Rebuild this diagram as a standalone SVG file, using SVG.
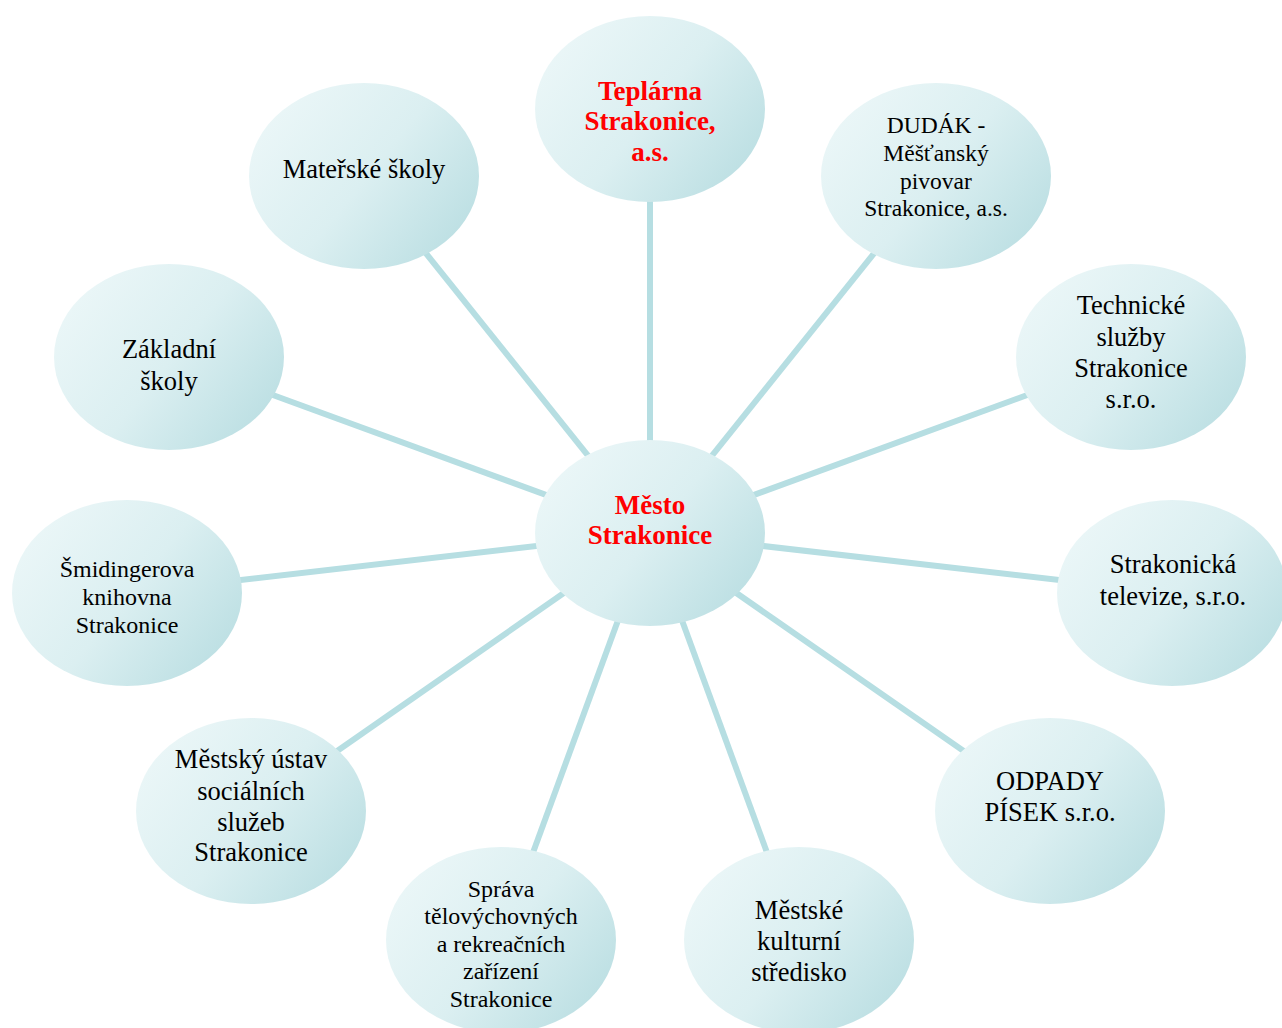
<svg xmlns="http://www.w3.org/2000/svg" width="1282" height="1028" viewBox="0 0 1282 1028" font-family="'Liberation Serif', 'Times New Roman', Times, serif">
<defs>
<linearGradient id="g" x1="0" y1="0.2" x2="1" y2="0.85">
<stop offset="0" stop-color="#ecf7f8"/>
<stop offset="0.5" stop-color="#dbeff1"/>
<stop offset="1" stop-color="#b8dde1"/>
</linearGradient>
<style>
.n{fill:url(#g);}
.c line{stroke:#b6dee2;stroke-width:6;}
text{text-anchor:middle;fill:#000;}
.r{fill:#ff0000;font-weight:bold;font-size:27px;}
.t24{font-size:26.5px;}
.t22{font-size:24px;}
.t21{font-size:24px;}
.d{font-size:23.5px;}
</style>
</defs>
<rect width="1282" height="1028" fill="#fff"/>
<g id="connectors" class="c">
<line x1="650" y1="533" x2="650" y2="109"/>
<line x1="650" y1="533" x2="364" y2="176"/>
<line x1="650" y1="533" x2="936" y2="176"/>
<line x1="650" y1="533" x2="169" y2="357"/>
<line x1="650" y1="533" x2="1131" y2="357"/>
<line x1="650" y1="533" x2="127" y2="593"/>
<line x1="650" y1="533" x2="1172" y2="593"/>
<line x1="650" y1="533" x2="251" y2="811"/>
<line x1="650" y1="533" x2="1050" y2="811"/>
<line x1="650" y1="533" x2="501" y2="940"/>
<line x1="650" y1="533" x2="799" y2="940"/>
</g>
<g id="center">
<ellipse class="n" cx="650" cy="533" rx="115" ry="93"/>
<text class="r" x="650" y="514">Město</text>
<text class="r" x="650" y="544">Strakonice</text>
</g>
<g id="teplarna">
<ellipse class="n" cx="650" cy="109" rx="115" ry="93"/>
<text class="r" x="650" y="100">Teplárna</text>
<text class="r" x="650" y="130">Strakonice,</text>
<text class="r" x="650" y="161">a.s.</text>
</g>
<g id="materske">
<ellipse class="n" cx="364" cy="176" rx="115" ry="93"/>
<text class="t24" x="364" y="178">Mateřské školy</text>
</g>
<g id="dudak">
<ellipse class="n" cx="936" cy="176" rx="115" ry="93"/>
<text class="d" x="936" y="133">DUDÁK -</text>
<text class="d" x="936" y="161">Měšťanský</text>
<text class="d" x="936" y="189">pivovar</text>
<text class="d" x="936" y="216">Strakonice, a.s.</text>
</g>
<g id="zakladni">
<ellipse class="n" cx="169" cy="357" rx="115" ry="93"/>
<text class="t24" x="169" y="358">Základní</text>
<text class="t24" x="169" y="390">školy</text>
</g>
<g id="technicke">
<ellipse class="n" cx="1131" cy="357" rx="115" ry="93"/>
<text class="t24" x="1131" y="314">Technické</text>
<text class="t24" x="1131" y="346">služby</text>
<text class="t24" x="1131" y="377">Strakonice</text>
<text class="t24" x="1131" y="408">s.r.o.</text>
</g>
<g id="knihovna">
<ellipse class="n" cx="127" cy="593" rx="115" ry="93"/>
<text class="t22" x="127" y="577">Šmidingerova</text>
<text class="t22" x="127" y="605">knihovna</text>
<text class="t22" x="127" y="633">Strakonice</text>
</g>
<g id="televize">
<ellipse class="n" cx="1172" cy="593" rx="115" ry="93"/>
<text class="t24" x="1173" y="573">Strakonická</text>
<text class="t24" x="1173" y="605">televize, s.r.o.</text>
</g>
<g id="ustav">
<ellipse class="n" cx="251" cy="811" rx="115" ry="93"/>
<text class="t24" x="251" y="768">Městský ústav</text>
<text class="t24" x="251" y="800">sociálních</text>
<text class="t24" x="251" y="831">služeb</text>
<text class="t24" x="251" y="861">Strakonice</text>
</g>
<g id="odpady">
<ellipse class="n" cx="1050" cy="811" rx="115" ry="93"/>
<text class="t24" x="1050" y="790">ODPADY</text>
<text class="t24" x="1050" y="821">PÍSEK s.r.o.</text>
</g>
<g id="sprava">
<ellipse class="n" cx="501" cy="940" rx="115" ry="93"/>
<text class="t21" x="501" y="897">Správa</text>
<text class="t21" x="501" y="924">tělovýchovných</text>
<text class="t21" x="501" y="952">a rekreačních</text>
<text class="t21" x="501" y="979">zařízení</text>
<text class="t21" x="501" y="1007">Strakonice</text>
</g>
<g id="kulturni">
<ellipse class="n" cx="799" cy="940" rx="115" ry="93"/>
<text class="t24" x="799" y="919">Městské</text>
<text class="t24" x="799" y="950">kulturní</text>
<text class="t24" x="799" y="981">středisko</text>
</g>
</svg>
